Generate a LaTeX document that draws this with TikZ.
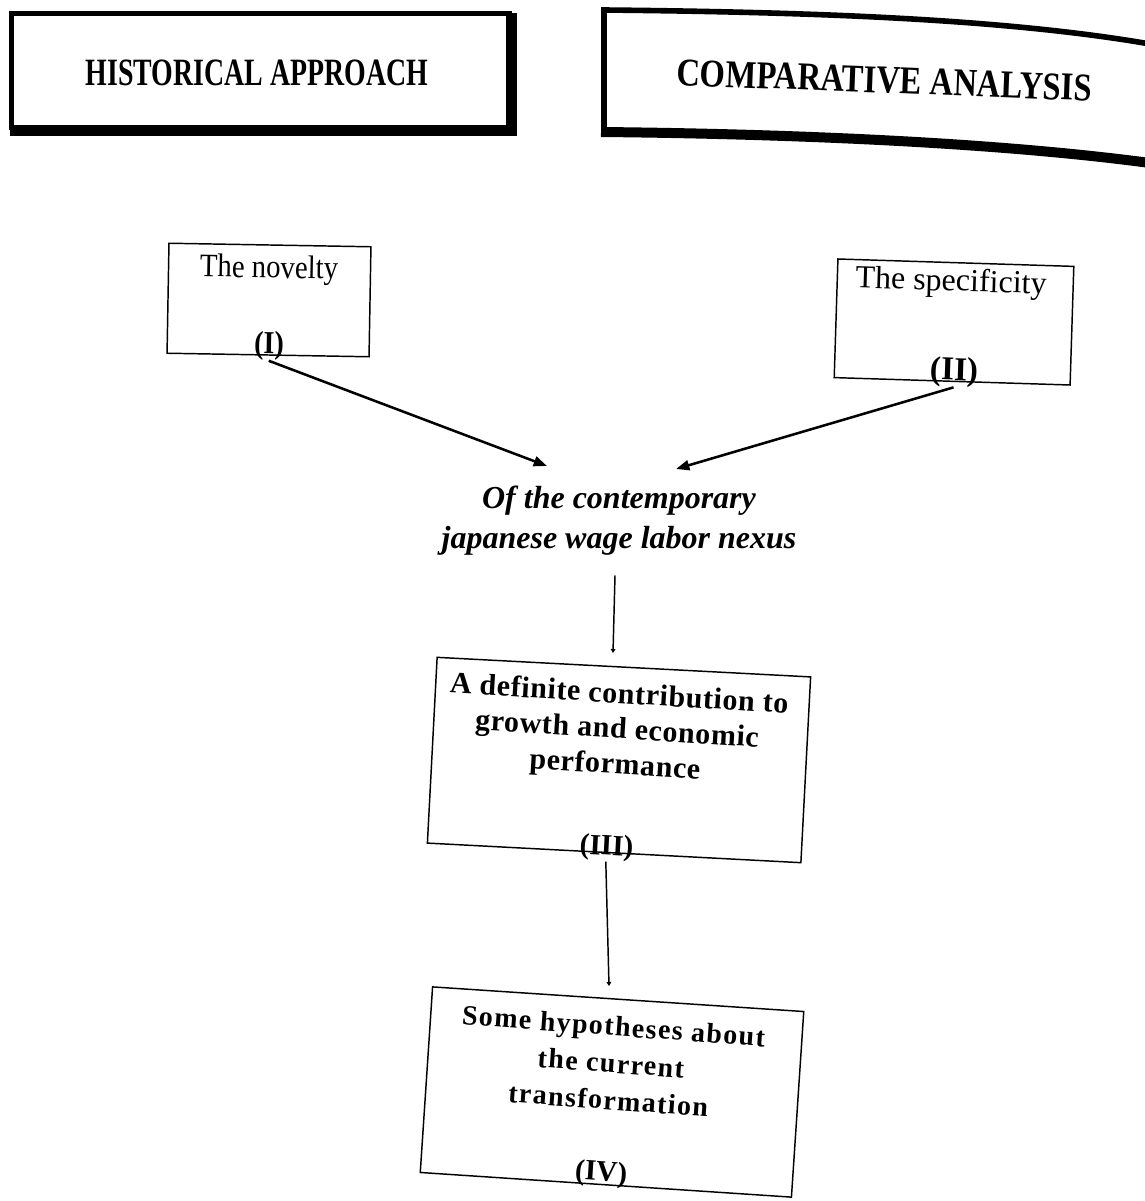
\documentclass[tikz,border=0pt]{standalone}
\usepackage{fontspec}
\setmainfont{Liberation Serif}
\newfontfamily\histfont{Liberation Serif}[FakeStretch=0.72]
\newfontfamily\compfont{Liberation Serif}[FakeStretch=0.83]
\newfontfamily\narrowfont{Liberation Serif}[FakeStretch=0.88]
\newfontfamily\trackA{Liberation Serif}[LetterSpace=2]
\newfontfamily\trackB{Liberation Serif}[LetterSpace=5]
\usetikzlibrary{arrows.meta,calc}

\begin{document}
\begin{tikzpicture}[x=0.75pt,y=-0.75pt,
  box/.style={draw, line width=1.1pt, inner sep=0pt, outer sep=0pt},
  txt/.style={inner sep=0pt, align=center},
  numlab/.style={inner sep=0pt},
  link/.style={line width=1.9pt, -{Triangle[length=10pt,width=7.5pt]}},
  drop/.style={line width=1.1pt, -{Triangle[length=3pt,width=3.5pt]}},
]
\useasboundingbox (0,0) rectangle (1144,1201);

% --- heading: historical approach (heavy frame, thicker on the bottom and right)
\node[draw, line width=3.75pt, inner sep=0pt, outer sep=0pt,
      minimum width=373.5pt, minimum height=85.5pt] (h1) at (260.5,70.5) {};
\draw[line width=8pt, line join=miter]
  ($(h1.north east)+(2,0)$) -- ($(h1.south east)+(2,3)$) -- ($(h1.south west)+(-2,3)$);
\node[inner sep=0pt, font=\histfont\bfseries\fontsize{29}{34}\selectfont]
  (h1t) at (257,72.5) {HISTORICAL APPROACH};

% --- heading: comparative analysis (open frame running off to the right)
\draw[line width=4.2pt, line join=miter]
  (1150,44) .. controls (1000,18) and (800,12) .. (604,10) -- (604,132);
\draw[line width=7.5pt]
  (601,132) .. controls (800,134) and (1000,143) .. (1150,163);
\node[inner sep=0pt, rotate=-2.2, font=\compfont\bfseries\fontsize{29.5}{34}\selectfont]
  (h2t) at (884.5,80.5) {COMPARATIVE ANALYSIS};

% --- box I
\node[box, rotate=-1, minimum width=151.5pt, minimum height=82.5pt] (b1) at (269,300) {};
\node[txt, rotate=-1, font=\narrowfont\fontsize{24.5}{29}\selectfont] (t1) at (269,270) {The novelty};
\node[numlab, rotate=-1, font=\narrowfont\bfseries\fontsize{24}{28}\selectfont] (l1) at (269,346) {(I)};

% --- box II
\node[box, rotate=-1.8, minimum width=177pt, minimum height=89pt] (b2) at (954,322) {};
\node[txt, rotate=-1.8, font=\fontsize{24}{28}\selectfont] (t2) at (951,283) {The specificity};
\node[numlab, rotate=-1.8, font=\bfseries\fontsize{25}{29}\selectfont] (l2) at (954,372) {(II)};

% --- the shared object of both approaches
\node[txt, font=\bfseries\itshape\fontsize{24}{30}\selectfont] (t) at (619,520.5)
  {Of the contemporary\\japanese wage labor nexus};
\coordinate (c1) at (547,466);
\coordinate (c2) at (676,469);
\draw[link] (l1.south) -- (c1);
\draw[link] (l2.south) -- (c2);

% --- box III
\node[box, rotate=-3, minimum width=280.5pt, minimum height=139.5pt] (b3) at (619,760) {};
\node[txt, rotate=-3.5, font=\trackA\bfseries\fontsize{22.5}{26.5}\selectfont] (t3) at (617,731)
  {A definite contribution to\\growth and economic\\performance};
\node[numlab, rotate=-3, font=\bfseries\fontsize{22}{26}\selectfont] (l3) at (606.5,848) {(III)};

% --- box IV
\node[box, rotate=-3.8, minimum width=279pt, minimum height=139.5pt] (b4) at (612,1092) {};
\node[txt, rotate=-4.2, font=\trackB\bfseries\fontsize{21}{27.75}\selectfont] (t4) at (611,1063)
  {Some hypotheses about\\the current\\transformation};
\node[numlab, rotate=-3.8, font=\bfseries\fontsize{22}{26}\selectfont] (l4) at (601,1174) {(IV)};

% --- vertical links
\coordinate (d1) at (613,653);
\coordinate (d2) at (609,986);
\draw[drop] ($(t.south)+(-4,20)$) -- (d1);
\draw[drop] (l3.south) -- (d2);
\end{tikzpicture}
\end{document}
